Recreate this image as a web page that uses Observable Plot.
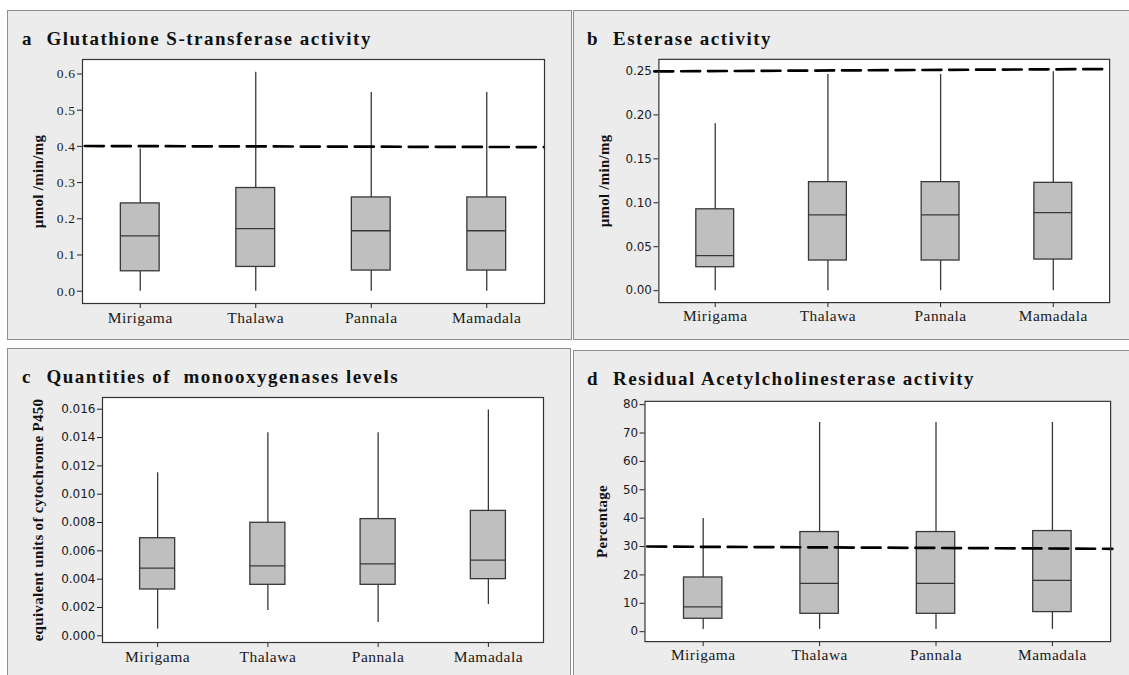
<!DOCTYPE html>
<html>
<head>
<meta charset="utf-8">
<script src="https://cdn.jsdelivr.net/npm/d3@7"></script>
<script src="https://cdn.jsdelivr.net/npm/@observablehq/plot@0.6"></script>
<style>
  body { margin: 0; background: #fff; }
  #page { position: relative; width: 1129px; height: 675px; overflow: hidden; background: #fff; }
  .panel { position: absolute; box-sizing: border-box; background: #ececec; border: 1px solid #8e8e8e; }
  .title { position: absolute; font-family: "Liberation Serif", "Times New Roman", serif; font-weight: bold;
           font-size: 19px; letter-spacing: 1.5px; white-space: pre; color: #111; line-height: 1; }
  .chart { position: absolute; }
  .chart svg { overflow: visible; }
  .chart g[aria-label^="x-axis"] text { font-size: 15.5px; letter-spacing: 0.5px; fill: #1a1a1a; }
  .chart g[aria-label^="y-axis"] text { fill: #1a1a1a; }
  .serif g[aria-label^="y-axis"] text { font-family: "Liberation Serif", serif; font-size: 13.5px; letter-spacing: 0.6px; }
  .sans g[aria-label^="y-axis"] text { font-family: "DejaVu Sans", sans-serif; font-size: 12px; }
  .chart g[aria-label="text"] text { letter-spacing: 0.3px; }
</style>
</head>
<body>
<div id="page"></div>
<script>
// ---- Data ----
const sites = ["Mirigama", "Thalawa", "Pannala", "Mamadala"];
const siteIndex = [1, 2, 3, 4];

// a  Glutathione S-transferase activity (µmol/min/mg)
const gstMin = [0, 0, 0, 0];
const gstQ1 = [0.055, 0.067, 0.057, 0.057];
const gstMed = [0.153, 0.173, 0.167, 0.167];
const gstQ3 = [0.2425, 0.285, 0.259, 0.259];
const gstMax = [0.393, 0.605, 0.549, 0.549];
const gstLimit = [0.401, 0.398];
const gstLimitX = [0.52, 4.495];
const gstTicks = [0, 0.1, 0.2, 0.3, 0.4, 0.5, 0.6];

// b  Esterase activity (µmol/min/mg)
const estMin = [0, 0, 0, 0];
const estQ1 = [0.0267, 0.0343, 0.0343, 0.0354];
const estMed = [0.0399, 0.0862, 0.0862, 0.0889];
const estQ3 = [0.0926, 0.1235, 0.1235, 0.1227];
const estMax = [0.1898, 0.246, 0.246, 0.249];
const estLimit = [0.2495, 0.2522];
const estLimitX = [0.46, 4.475];
const estTicks = [0, 0.05, 0.10, 0.15, 0.20, 0.25];

// c  Monooxygenases (equivalent units of cytochrome P450)
const p450Min = [0.00047, 0.00179, 0.00094, 0.00221];
const p450Q1 = [0.00327, 0.0036, 0.0036, 0.0040];
const p450Med = [0.00478, 0.00494, 0.00508, 0.00534];
const p450Q3 = [0.00689, 0.00798, 0.00824, 0.00882];
const p450Max = [0.01151, 0.01433, 0.01433, 0.01595];
const p450Ticks = [0, 0.002, 0.004, 0.006, 0.008, 0.010, 0.012, 0.014, 0.016];

// d  Residual acetylcholinesterase activity (%)
const acheMin = [0.8, 0.8, 0.8, 0.8];
const acheQ1 = [4.55, 6.3, 6.3, 6.9];
const acheMed = [8.75, 17.0, 17.0, 18.1];
const acheQ3 = [19.1, 35.1, 35.1, 35.45];
const acheMax = [39.9, 73.7, 73.7, 73.7];
const acheLimit = [30.0, 29.2];
const acheLimitX = [0.52, 4.515];
const acheTicks = [0, 10, 20, 30, 40, 50, 60, 70, 80];

// ---- Layout ----
const panels = [
  { letter: "a", title: "Glutathione S-transferase activity", ylabel: "\u00b5mol /min/mg",
    box: {l: 7, t: 10, w: 565, h: 330}, frame: {l: 82, r: 544, t: 59, b: 303},
    titleX: [22, 46.5], titleBase: 45, labelDx: -44, yFont: "serif",
    min: gstMin, q1: gstQ1, med: gstMed, q3: gstQ3, max: gstMax,
    limit: gstLimit, limitX: gstLimitX, ticks: gstTicks, fmt: d3.format(".1f"),
    ydomain: [-0.034, 0.640], hw: 0.168 },
  { letter: "b", title: "Esterase activity", ylabel: "\u00b5mol /min/mg",
    box: {l: 573, t: 10, w: 560, h: 330}, frame: {l: 659, r: 1113, t: 59, b: 304},
    titleX: [587, 613], titleBase: 45, labelDx: -55, yFont: "sans",
    min: estMin, q1: estQ1, med: estMed, q3: estQ3, max: estMax,
    limit: estLimit, limitX: estLimitX, ticks: estTicks, fmt: d3.format(".2f"),
    ydomain: [-0.01356, 0.2632], hw: 0.168 },
  { letter: "c", title: "Quantities of  monooxygenases levels", ylabel: "equivalent units of cytochrome P450",
    box: {l: 7, t: 348, w: 564, h: 340}, frame: {l: 102, r: 543, t: 397, b: 642},
    titleX: [22, 46.5], titleBase: 383, labelDx: -64, yFont: "sans",
    min: p450Min, q1: p450Q1, med: p450Med, q3: p450Q3, max: p450Max,
    limit: null, ticks: p450Ticks, fmt: d3.format(".3f"),
    ydomain: [-0.000473, 0.016827], hw: 0.159 },
  { letter: "d", title: "Residual Acetylcholinesterase activity", ylabel: "Percentage",
    box: {l: 573, t: 350, w: 560, h: 340}, frame: {l: 645, r: 1114, t: 401, b: 643},
    titleX: [587, 613], titleBase: 385, labelDx: -43, yFont: "sans",
    min: acheMin, q1: acheQ1, med: acheMed, q3: acheQ3, max: acheMax,
    limit: acheLimit, limitX: acheLimitX, ticks: acheTicks, fmt: d3.format("d"),
    ydomain: [-3.5, 81.15], hw: 0.165 }
];

const page = document.getElementById("page");
const boxStroke = "#383838";

for (const p of panels) {
  const div = document.createElement("div");
  div.className = "panel";
  Object.assign(div.style, {left: p.box.l + "px", top: p.box.t + "px", width: p.box.w + "px", height: p.box.h + "px"});
  page.appendChild(div);

  // Title (letter + text)
  const ascent = 15.9;
  for (const [k, txt] of [[0, p.letter], [1, p.title]]) {
    const t = document.createElement("div");
    t.className = "title";
    t.textContent = txt;
    t.style.left = p.titleX[k] + "px";
    t.style.top = (p.titleBase - ascent) + "px";
    page.appendChild(t);
  }

  const rows = siteIndex.map((idx, i) => ({
    i: idx, site: sites[i], min: p.min[i], q1: p.q1[i], med: p.med[i], q3: p.q3[i], max: p.max[i]
  }));
  const hw = p.hw;

  const svgTop = p.frame.t - 20;
  const H = p.frame.b + 40 - svgTop;
  const W = p.box.w;

  const marks = [
    Plot.frame({fill: "white", stroke: "none"}),
    Plot.ruleX(rows, {x: "i", y1: "min", y2: "max", stroke: boxStroke, strokeWidth: 1.3}),
    Plot.rect(rows, {x1: d => d.i - hw, x2: d => d.i + hw, y1: "q1", y2: "q3",
                     fill: "#bfbfbf", stroke: boxStroke, strokeWidth: 1.3}),
    Plot.ruleY(rows, {y: "med", x1: d => d.i - hw, x2: d => d.i + hw, stroke: boxStroke, strokeWidth: 1.3})
  ];
  if (p.limit) {
    const limRows = p.limit.map((v, k) => ({x: p.limitX[k], y: v}));
    marks.push(Plot.line(limRows, {x: "x", y: "y", stroke: "#000", strokeWidth: 2.7, strokeDasharray: "19,8"}));
  }
  marks.push(Plot.frame({stroke: "#333", strokeWidth: 1.2}));
  marks.push(Plot.text([p.ylabel], {text: d => d, frameAnchor: "left", textAnchor: "middle", lineAnchor: "middle",
    rotate: -90, dx: p.labelDx,
    fontWeight: "bold", fontSize: 15, fontFamily: "Liberation Serif, serif", fill: "#111"}));

  const chart = Plot.plot({
    width: W, height: H,
    marginLeft: p.frame.l - p.box.l,
    marginRight: p.box.l + W - p.frame.r,
    marginTop: 20, marginBottom: 40,
    style: {background: "transparent", fontFamily: "Liberation Serif, serif", fontSize: "15px", color: "#222", overflow: "visible"},
    x: {domain: [0.5, 4.5], ticks: siteIndex, tickFormat: i => sites[i - 1], tickSize: 5, tickPadding: 3, label: null},
    y: {domain: p.ydomain, ticks: p.ticks, tickFormat: p.fmt, tickSize: 5, tickPadding: 2, label: null},
    marks
  });

  const holder = document.createElement("div");
  holder.className = "chart " + p.yFont;
  holder.style.left = p.box.l + "px";
  holder.style.top = svgTop + "px";
  holder.appendChild(chart);
  page.appendChild(holder);
}
</script>
</body>
</html>
